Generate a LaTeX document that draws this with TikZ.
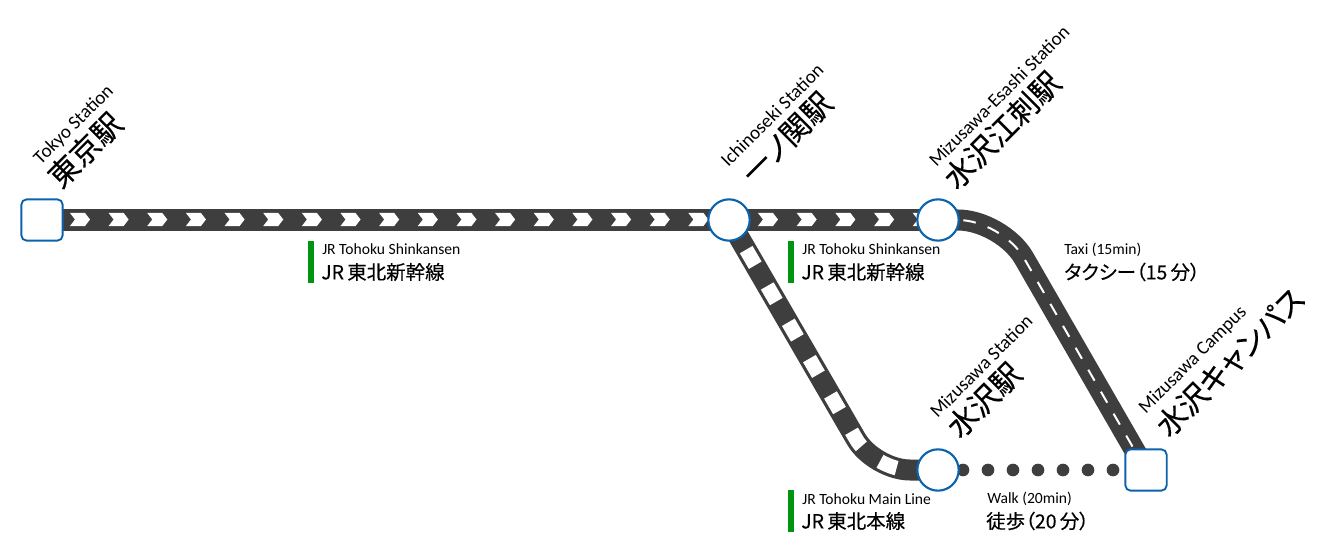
\documentclass[tikz,border=0pt]{standalone}
\usepackage{fontspec}
\setmainfont{Carlito}
\newfontfamily\cjk[RawFeature=+palt,FakeBold=0.25]{Noto Sans CJK JP}
\usetikzlibrary{backgrounds}
\definecolor{railc}{HTML}{3E3E3E}
\definecolor{rimc}{HTML}{0B63AE}
\definecolor{barc}{HTML}{009411}
\tikzset{
  x=0.75pt,y=-0.75pt,
  stationc/.style={circle,draw=rimc,line width=1.6pt,fill=white,minimum size=31pt,inner sep=0pt},
  stations/.style={rectangle,rounded corners=4pt,draw=rimc,line width=1.4pt,fill=white,minimum size=31pt,inner sep=0pt},
  rail/.style={draw=railc,line width=15.75pt,line join=round},
  enname/.style={rotate=45,inner sep=0pt,font=\fontsize{14.3}{16}\selectfont,text=black},
  jpname/.style={rotate=45,inner sep=0pt,font=\cjk\fontsize{22.5}{24}\selectfont,text=black},
  ensub/.style={anchor=west,inner sep=0pt,font=\fontsize{11.7}{13}\selectfont,text=black},
  jpsub/.style={anchor=west,inner sep=0pt,font=\cjk\fontsize{14.6}{17}\selectfont,text=black},
  linebar/.style={fill=barc,draw=none,minimum width=4.5pt,minimum height=31.5pt,inner sep=0pt},
}
\begin{document}
\begin{tikzpicture}
\useasboundingbox (0,0) rectangle (1333,552);
\node[stations] (tokyo) at (42,220) {};
\node[stationc] (ichi) at (729,220) {};
\node[stationc] (esashi) at (938,220) {};
\node[stationc] (mizu) at (938,470) {};
\node[stations] (campus) at (1146,470) {};
\coordinate (mainc) at (874,470);
\coordinate (taxic) at (1002,220);
\begin{scope}[on background layer]
  \draw[rail] (tokyo.center) -- (esashi.center);
  \foreach \k in {0,...,16} {
    \fill[white,shift={(38.65*\k,0)}] (70,213) -- (85,213) -- (90,219.5) -- (85,226) -- (70,226) -- (75,219.5) -- cycle;
  }
  \foreach \k in {0,...,4} {
    \fill[white,shift={(38.7*\k,0)}] (758,213) -- (773,213) -- (778,219.5) -- (773,226) -- (758,226) -- (763,219.5) -- cycle;
  }
  \draw[rail,rounded corners=27pt] (ichi.center) -- (mainc) -- (mizu.center);
  \draw[white,line width=11pt,dash pattern=on 13.5pt off 18pt,dash phase=5.8pt,rounded corners=27pt] (ichi.center) -- (mainc) -- (mizu.center);
  \draw[rail,rounded corners=33pt] (esashi.center) -- (taxic) -- (campus.center);
  \draw[white,line width=1.5pt,dash pattern=on 9.5pt off 9.5pt,rounded corners=33pt] (esashi.center) -- (taxic) -- (campus.center);
  \draw[railc,line width=9.5pt,line cap=round,dash pattern=on 0pt off 18.75pt] (mizu.center) -- (campus.center);
\end{scope}
\node[enname] (n1) at (74,125) {Tokyo Station};
\node[jpname] (n2) at (85,150) {東京駅};
\node[enname] (n3) at (772,115) {Ichinoseki Station};
\node[jpname] (n4) at (787,138) {一ノ関駅};
\node[enname] (n5) at (999,96) {Mizusawa-Esashi Station};
\node[jpname] (n6) at (1002,130) {水沢江刺駅};
\node[enname] (n7) at (981,366) {Mizusawa Station};
\node[jpname] (n8) at (984,400) {水沢駅};
\node[enname] (n9) at (1193,360) {Mizusawa Campus};
\node[jpname] (n10) at (1230,362) {水沢キャンパス};
\node[linebar] (b1) at (311,262) {};
\node[ensub] (t1) at (322,249) {JR Tohoku Shinkansen};
\node[jpsub] (t2) at (321,272) {JR\,東北新幹線};
\node[linebar] (b2) at (791,262) {};
\node[ensub] (t3) at (802,249) {JR Tohoku Shinkansen};
\node[jpsub] (t4) at (801,272) {JR\,東北新幹線};
\node[linebar] (b3) at (791,511) {};
\node[ensub] (t5) at (802,499) {JR Tohoku Main Line};
\node[jpsub] (t6) at (801,521) {JR\,東北本線};
\node[ensub] (t7) at (987,499) {Walk (20min)};
\node[jpsub] (t8) at (986,521) {徒歩（20\,分）};
\node[ensub] (t9) at (1064,250) {Taxi (15min)};
\node[jpsub] (t10) at (1064,272) {タクシー（15\,分）};
\end{tikzpicture}
\end{document}
